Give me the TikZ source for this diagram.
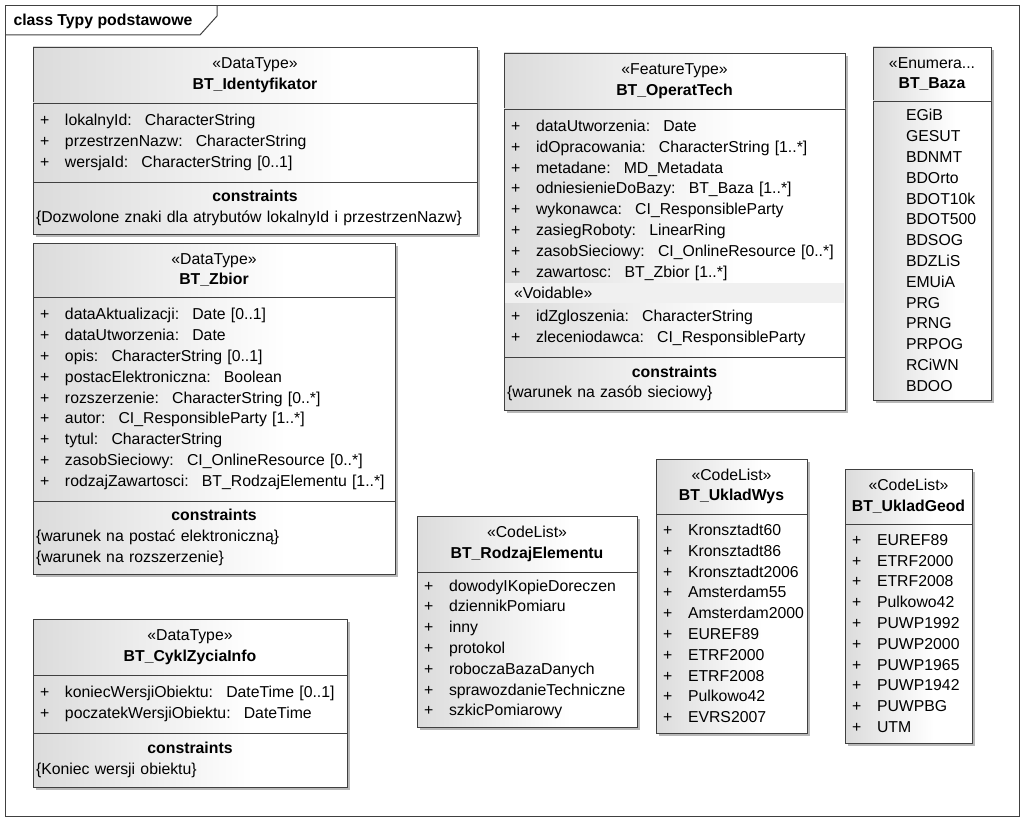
\documentclass[tikz,border=0pt]{standalone}
\usepackage{fontspec}
\setmainfont{Liberation Sans}
\usetikzlibrary{positioning, shadows}

\pgfdeclarehorizontalshading{umlfade}{100bp}{%
  color(0bp)=(black!16); color(25bp)=(black!14); color(60bp)=(white); color(100bp)=(white)}

\newcommand{\attr}[1]{\mbox{\makebox[29pt][l]{\hspace{4pt}+}#1}}
\newcommand{\literal}[1]{\hspace*{30pt}\mbox{#1}}

\begin{document}
\begin{tikzpicture}[
  x=1pt, y=1pt,
  font=\fontsize{15.8}{20.8}\selectfont,
  comp/.style = {
    draw=black!75, line width=0.9pt, shade, shading=umlfade,
    minimum width=#1, text width={#1-6pt}, inner xsep=3pt, inner ysep=0pt,
    outer sep=0pt,
    drop shadow={shadow xshift=3pt, shadow yshift=-3pt, fill=black!28, opacity=1}
  },
  head/.style  = {comp=#1, align=center},
  attrs/.style = {comp=#1, align=left},
  cons/.style  = {comp=#1, align=left},
  band/.style  = {fill=black!6, minimum width=#1, text width={#1-18pt},
                  inner xsep=9pt, inner ysep=0pt, minimum height=20pt,
                  anchor=north west, align=left},
  frame/.style = {draw=black!75, line width=1pt}
]
\useasboundingbox (0,0) rectangle (1024,-821);

% diagram frame
\draw[frame] (5,-6) rectangle (1019,-816);
\draw[frame] (5,-35) -- (200,-35) -- (217,-16) -- (217,-6);
\node[anchor=west, font=\fontsize{15.8}{20.8}\selectfont\bfseries] (title) at (10,-21)
  {class Typy podstawowe};

% BT_Identyfikator
\node[head=444pt, minimum height=56pt, anchor=north west] (idH) at (33,-47)
  {«DataType»\\\textbf{BT\_Identyfikator}};
\node[attrs=444pt, minimum height=79pt, below=0pt of idH] (idA)
  {\attr{lokalnyId:~ CharacterString}\\
   \attr{przestrzenNazw:~ CharacterString}\\
   \attr{wersjaId:~ CharacterString [0..1]}};
\node[cons=444pt, minimum height=52pt, below=0pt of idA] (idC)
  {\makebox[\linewidth]{\textbf{constraints}}\\
   \mbox{\{Dozwolone znaki dla atrybutów lokalnyId i przestrzenNazw\}}};

% BT_Zbior
\node[head=362pt, minimum height=54pt, anchor=north west] (zbH) at (33,-243)
  {«DataType»\\\textbf{BT\_Zbior}};
\node[attrs=362pt, minimum height=204pt, below=0pt of zbH] (zbA)
  {\attr{dataAktualizacji:~ Date [0..1]}\\
   \attr{dataUtworzenia:~ Date}\\
   \attr{opis:~ CharacterString [0..1]}\\
   \attr{postacElektroniczna:~ Boolean}\\
   \attr{rozszerzenie:~ CharacterString [0..*]}\\
   \attr{autor:~ CI\_ResponsibleParty [1..*]}\\
   \attr{tytul:~ CharacterString}\\
   \attr{zasobSieciowy:~ CI\_OnlineResource [0..*]}\\
   \attr{rodzajZawartosci:~ BT\_RodzajElementu [1..*]}};
\node[cons=362pt, minimum height=73pt, below=0pt of zbA] (zbC)
  {\makebox[\linewidth]{\textbf{constraints}}\\
   \mbox{\{warunek na postać elektroniczną\}}\\
   \mbox{\{warunek na rozszerzenie\}}};

% BT_CyklZyciaInfo
\node[head=314pt, minimum height=56pt, anchor=north west] (czH) at (33,-619)
  {«DataType»\\\textbf{BT\_CyklZyciaInfo}};
\node[attrs=314pt, minimum height=58pt, below=0pt of czH] (czA)
  {\attr{koniecWersjiObiektu:~ DateTime [0..1]}\\
   \attr{poczatekWersjiObiektu:~ DateTime}};
\node[cons=314pt, minimum height=54pt, below=0pt of czA] (czC)
  {\makebox[\linewidth]{\textbf{constraints}}\\
   \mbox{\{Koniec wersji obiektu\}}};

% BT_OperatTech
\node[head=341pt, minimum height=56pt, anchor=north west] (otH) at (504,-53)
  {«FeatureType»\\\textbf{BT\_OperatTech}};
\node[attrs=341pt, minimum height=248pt, below=0pt of otH] (otA)
  {\attr{dataUtworzenia:~ Date}\\
   \attr{idOpracowania:~ CharacterString [1..*]}\\
   \attr{metadane:~ MD\_Metadata}\\
   \attr{odniesienieDoBazy:~ BT\_Baza [1..*]}\\
   \attr{wykonawca:~ CI\_ResponsibleParty}\\
   \attr{zasiegRoboty:~ LinearRing}\\
   \attr{zasobSieciowy:~ CI\_OnlineResource [0..*]}\\
   \attr{zawartosc:~ BT\_Zbior [1..*]}\\[3pt]
   \mbox{}\\
   \attr{idZgloszenia:~ CharacterString}\\
   \attr{zleceniodawca:~ CI\_ResponsibleParty}};
\node[band=339pt] (otV) at ([xshift=1pt, yshift=-174pt]otA.north west) {«Voidable»};
\node[cons=341pt, minimum height=53pt, below=0pt of otA] (otC)
  {\makebox[\linewidth]{\textbf{constraints}}\\
   \mbox{\{warunek na zasób sieciowy\}}};

% BT_Baza
\node[head=118pt, minimum height=54pt, anchor=north west] (bzH) at (873,-47)
  {«Enumera...\\\textbf{BT\_Baza}};
\node[attrs=118pt, minimum height=299pt, below=0pt of bzH] (bzA)
  {\literal{EGiB}\\ \literal{GESUT}\\ \literal{BDNMT}\\ \literal{BDOrto}\\
   \literal{BDOT10k}\\ \literal{BDOT500}\\ \literal{BDSOG}\\ \literal{BDZLiS}\\
   \literal{EMUiA}\\ \literal{PRG}\\ \literal{PRNG}\\ \literal{PRPOG}\\
   \literal{RCiWN}\\ \literal{BDOO}};

% BT_RodzajElementu
\node[head=220pt, minimum height=56pt, anchor=north west] (reH) at (417,-516)
  {«CodeList»\\\textbf{BT\_RodzajElementu}};
\node[attrs=220pt, minimum height=155pt, below=0pt of reH] (reA)
  {\attr{dowodyIKopieDoreczen}\\
   \attr{dziennikPomiaru}\\
   \attr{inny}\\
   \attr{protokol}\\
   \attr{roboczaBazaDanych}\\
   \attr{sprawozdanieTechniczne}\\
   \attr{szkicPomiarowy}};

% BT_UkladWys
\node[head=151pt, minimum height=55pt, anchor=north west] (uwH) at (656,-459)
  {«CodeList»\\\textbf{BT\_UkladWys}};
\node[attrs=151pt, minimum height=219pt, below=0pt of uwH] (uwA)
  {\attr{Kronsztadt60}\\ \attr{Kronsztadt86}\\ \attr{Kronsztadt2006}\\
   \attr{Amsterdam55}\\ \attr{Amsterdam2000}\\ \attr{EUREF89}\\
   \attr{ETRF2000}\\ \attr{ETRF2008}\\ \attr{Pulkowo42}\\ \attr{EVRS2007}};

% BT_UkladGeod
\node[head=127pt, minimum height=55pt, anchor=north west] (ugH) at (845,-469)
  {«CodeList»\\\textbf{BT\_UkladGeod}};
\node[attrs=127pt, minimum height=219pt, below=0pt of ugH] (ugA)
  {\attr{EUREF89}\\ \attr{ETRF2000}\\ \attr{ETRF2008}\\ \attr{Pulkowo42}\\
   \attr{PUWP1992}\\ \attr{PUWP2000}\\ \attr{PUWP1965}\\ \attr{PUWP1942}\\
   \attr{PUWPBG}\\ \attr{UTM}};

\end{tikzpicture}
\end{document}
